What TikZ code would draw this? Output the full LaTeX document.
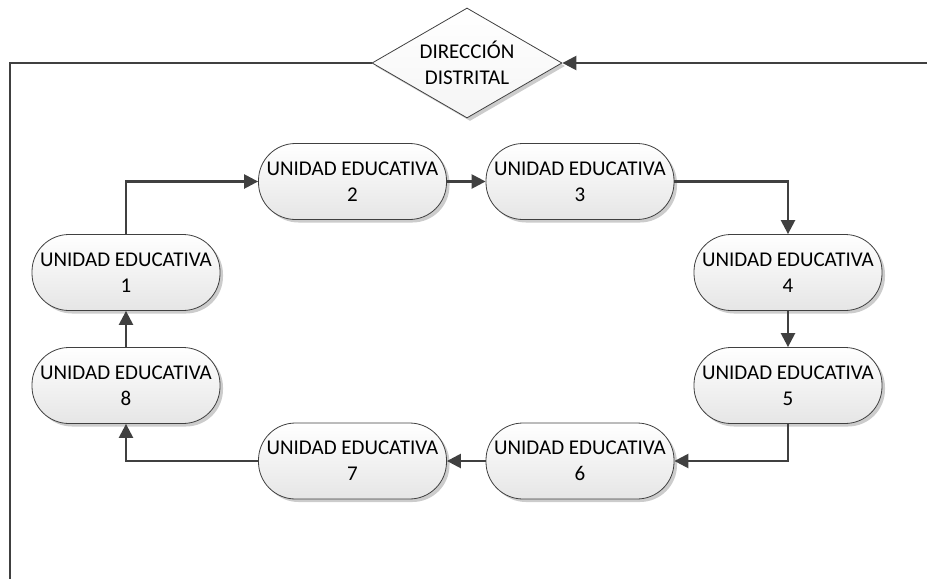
\documentclass[tikz,border=0pt]{standalone}
\usepackage{fontspec}
\setmainfont{Carlito}
\usetikzlibrary{shapes.geometric,shadows,arrows.meta}
\definecolor{lineagray}{HTML}{404040}
\tikzset{
  unidad/.style={draw=black!75, line width=0.8pt, rectangle, rounded corners=37pt,
    minimum width=188pt, minimum height=76pt, inner sep=0pt, align=center,
    top color=white, bottom color=black!10,
    drop shadow={shadow xshift=3pt, shadow yshift=-3pt, opacity=0.2, fill=black},
    font=\fontsize{21}{26}\selectfont},
  direccion/.style={draw=black!75, line width=0.8pt, diamond, aspect=1.73,
    minimum width=190pt, minimum height=110pt, inner sep=0pt, align=center,
    top color=white, bottom color=black!4,
    drop shadow={shadow xshift=3pt, shadow yshift=-3pt, opacity=0.2, fill=black},
    font=\fontsize{21}{26}\selectfont},
  linea/.style={draw=lineagray, line width=2.4pt},
  flujo/.style={linea, -{Triangle[length=14pt,width=14pt]}}
}
\begin{document}
\begin{tikzpicture}[x=1pt,y=-1pt]
        \useasboundingbox (0,0) rectangle (927,579);
        \node[direccion] (dd) at (467,63) {DIRECCIÓN\\DISTRITAL};
        \foreach \n/\x/\y in {1/126/272.5, 2/352.5/181.5, 3/580/181.5, 4/788/272.5,
                              5/788/385.5, 6/580/461, 7/352.5/461, 8/126/385.5} {
          \node[unidad] (u\n) at (\x,\y) {UNIDAD EDUCATIVA\\\n};
        }
        \coordinate (cl) at (10,579);
        \coordinate (cr) at (927,63);
        \draw[linea] (dd.west) -| (cl);
        \draw[flujo] (cr) -- (dd.east);
        \draw[flujo] (u1.north) |- (u2.west);
        \draw[flujo] (u2.east) -- (u3.west);
        \draw[flujo] (u3.east) -| (u4.north);
        \draw[flujo] (u4.south) -- (u5.north);
        \draw[flujo] (u5.south) |- (u6.east);
        \draw[flujo] (u6.west) -- (u7.east);
        \draw[flujo] (u7.west) -| (u8.south);
        \draw[flujo] (u8.north) -- (u1.south);
      \end{tikzpicture}
\end{document}
